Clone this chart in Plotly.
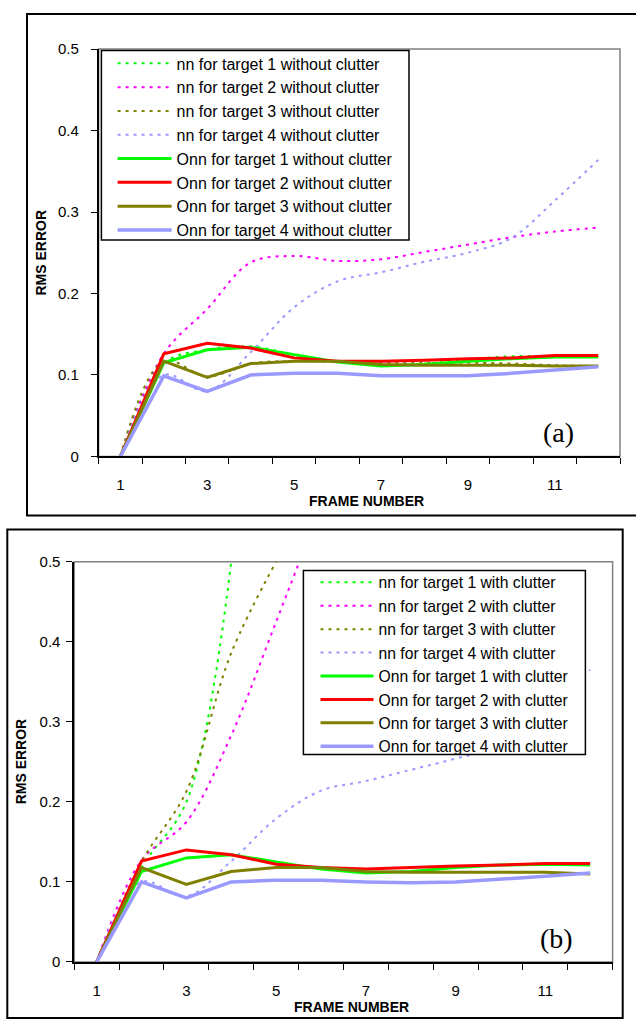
import plotly.graph_objects as go

frames = [1, 2, 3, 4, 5, 6, 7, 8, 9, 10, 11, 12]
x_tick_vals = [1, 3, 5, 7, 9, 11]
x_tick_text = ["1", "3", "5", "7", "9", "11"]
y_tick_vals = [0, 0.1, 0.2, 0.3, 0.4, 0.5]
y_tick_text = ["0", "0.1", "0.2", "0.3", "0.4", "0.5"]

# Panel (a): without clutter
nn1_a = [0, 0.114, 0.131, 0.135, 0.125, 0.117, 0.112, 0.114, 0.119, 0.123, 0.123, 0.122]
nn2_a = [0, 0.126, 0.181, 0.238, 0.246, 0.240, 0.242, 0.251, 0.260, 0.269, 0.276, 0.281]
nn3_a = [0, 0.117, 0.098, 0.114, 0.117, 0.116, 0.115, 0.115, 0.115, 0.114, 0.112, 0.111]
nn4_a = [0, 0.100, 0.080, 0.128, 0.183, 0.215, 0.226, 0.239, 0.250, 0.268, 0.314, 0.364]
onn1_a = [0, 0.115, 0.131, 0.134, 0.125, 0.116, 0.111, 0.113, 0.117, 0.120, 0.122, 0.122]
onn2_a = [0, 0.126, 0.139, 0.133, 0.121, 0.117, 0.117, 0.118, 0.120, 0.121, 0.124, 0.124]
onn3_a = [0, 0.117, 0.097, 0.114, 0.117, 0.117, 0.113, 0.112, 0.112, 0.112, 0.111, 0.111]
onn4_a = [0, 0.099, 0.080, 0.100, 0.102, 0.102, 0.099, 0.099, 0.099, 0.102, 0.106, 0.110]

# Panel (b): with clutter (values above 0.5 leave the plot)
nn1_b = [0, 0.118, 0.200, 0.500, None, None, None, None, None, None, None, None]
nn2_b = [0, 0.127, 0.175, 0.283, 0.425, 0.570, None, None, None, None, None, None]
nn3_b = [0, 0.125, 0.213, 0.386, 0.500, None, None, None, None, None, None, None]
nn4_b = [0, 0.100, 0.082, 0.126, 0.179, 0.214, 0.226, 0.240, 0.254, 0.270, 0.314, 0.365]
onn1_b = [0, 0.113, 0.130, 0.134, 0.125, 0.116, 0.111, 0.113, 0.118, 0.121, 0.122, 0.121]
onn2_b = [0, 0.126, 0.140, 0.134, 0.122, 0.118, 0.116, 0.118, 0.120, 0.121, 0.123, 0.123]
onn3_b = [0, 0.118, 0.097, 0.113, 0.118, 0.118, 0.113, 0.112, 0.112, 0.112, 0.112, 0.110]
onn4_b = [0, 0.100, 0.080, 0.100, 0.102, 0.102, 0.100, 0.099, 0.100, 0.103, 0.107, 0.111]

colors = ["#00FF00", "#FF00FF", "#808000", "#9999FF"]
onn_colors = ["#00FF00", "#FF0000", "#808000", "#9999FF"]

W, H = 636, 1028
FONT = "Liberation Sans, Arial, sans-serif"

fig = go.Figure()

panels = [
    ("without clutter", [nn1_a, nn2_a, nn3_a, nn4_a], [onn1_a, onn2_a, onn3_a, onn4_a], "x", "y", "legend"),
    ("with clutter", [nn1_b, nn2_b, nn3_b, nn4_b], [onn1_b, onn2_b, onn3_b, onn4_b], "x2", "y2", "legend2"),
]
for suffix, nns, onns, xa, ya, lg in panels:
    for k, vals in enumerate(nns):
        fig.add_trace(go.Scatter(
            x=frames, y=vals, mode="lines", name=f"nn for target {k+1} {suffix}",
            line=dict(color=colors[k], width=2, dash="3px,5px", shape="spline"),
            xaxis=xa, yaxis=ya, legend=lg, connectgaps=False))
    for k, vals in enumerate(onns):
        fig.add_trace(go.Scatter(
            x=frames, y=vals, mode="lines", name=f"Onn for target {k+1} {suffix}",
            line=dict(color=onn_colors[k], width=3.5 if k == 3 else 3),
            xaxis=xa, yaxis=ya, legend=lg))


def xaxis(domain, anchor, standoff):
    return dict(domain=domain, anchor=anchor, range=[0.5, 12.5], tickmode="array",
                tickvals=x_tick_vals, ticktext=x_tick_text, ticks="outside", ticklen=6,
                tickcolor="rgba(0,0,0,0)", showline=True, linecolor="black", linewidth=1.5,
                showgrid=False, zeroline=False, tickfont=dict(size=15, color="black"),
                ticklabelstandoff=standoff,
                minor=dict(tickvals=[i + 0.5 for i in range(0, 13)], ticks="outside",
                           ticklen=6, tickcolor="black", tickwidth=1.2, showgrid=False))


def yaxis(domain, anchor, standoff):
    return dict(domain=domain, anchor=anchor, range=[0, 0.5], tickmode="array",
                tickvals=y_tick_vals, ticktext=y_tick_text, ticks="outside", ticklen=6,
                tickcolor="black", tickwidth=1.2, showline=True, linecolor="black",
                linewidth=1.5, showgrid=False, zeroline=False,
                tickfont=dict(size=15, color="black"), ticklabelstandoff=standoff)


fig.update_layout(
    width=W, height=H, margin=dict(l=0, r=0, t=0, b=0),
    paper_bgcolor="white", plot_bgcolor="white",
    font=dict(family=FONT, color="black"),
    showlegend=True,
    xaxis=xaxis([98.6 / W, 620 / W], "y", 8),
    yaxis=yaxis([1 - 455 / H, 1 - 40.7 / H], "x", 9),
    xaxis2=xaxis([74.2 / W, 612.6 / W], "y2", 8),
    yaxis2=yaxis([1 - 969 / H, 1 - 562 / H], "x2", 3),
    legend=dict(x=112.6 / W, y=1 - 38.1 / H, xanchor="left", yanchor="top",
                bgcolor="rgba(0,0,0,0)", borderwidth=0,
                font=dict(size=16, family=FONT), itemwidth=54, tracegroupgap=0),
    legend2=dict(x=315.5 / W, y=1 - 566 / H, xanchor="left", yanchor="top",
                 bgcolor="rgba(0,0,0,0)", borderwidth=0,
                 font=dict(size=15.7, family=FONT), itemwidth=53, tracegroupgap=0),
)

shapes = []
for xr, yr in [("x domain", "y domain"), ("x2 domain", "y2 domain")]:
    shapes.append(dict(type="rect", xref=xr, yref=yr, x0=0, x1=1, y0=0, y1=1,
                       line=dict(color="#808080", width=1.5), layer="below"))
# legend frames (white boxes behind the legend entries)
shapes.append(dict(type="rect", xref="paper", yref="paper", x0=101.4 / W, x1=409 / W,
                   y0=1 - 235 / H, y1=1 - 42.3 / H, fillcolor="white",
                   line=dict(color="black", width=1.5), layer="above"))
shapes.append(dict(type="rect", xref="paper", yref="paper", x0=303.4 / W, x1=585.4 / W,
                   y0=1 - 758 / H, y1=1 - 571 / H, fillcolor="white",
                   line=dict(color="black", width=1.5), layer="above"))
# outer chart boxes
shapes.append(dict(type="rect", xref="paper", yref="paper", x0=27 / W, x1=640 / W,
                   y0=1 - 515 / H, y1=1 - 5 / H, line=dict(color="black", width=2)))
shapes.append(dict(type="rect", xref="paper", yref="paper", x0=7.3 / W, x1=622.7 / W,
                   y0=1 - 1026 / H, y1=1 - 529.3 / H, line=dict(color="black", width=2)))
fig.update_layout(shapes=shapes)

ann = []
title_font = dict(size=14, family=FONT, color="black")
ann.append(dict(text="<b>FRAME NUMBER</b>", xref="paper", yref="paper", x=366 / W, y=1 - 500 / H,
                showarrow=False, font=title_font, xanchor="center", yanchor="middle"))
ann.append(dict(text="<b>FRAME NUMBER</b>", xref="paper", yref="paper", x=351 / W, y=1 - 1015 / H,
                showarrow=False, font=title_font, xanchor="center", yanchor="middle"))
ann.append(dict(text="<b>RMS ERROR</b>", xref="paper", yref="paper", x=40.6 / W, y=1 - 248 / H,
                showarrow=False, font=title_font, textangle=-90, xanchor="center", yanchor="middle"))
ann.append(dict(text="<b>RMS ERROR</b>", xref="paper", yref="paper", x=21 / W, y=1 - 765 / H,
                showarrow=False, font=title_font, textangle=-90, xanchor="center", yanchor="middle"))
panel_font = dict(size=28, family="Liberation Serif, Times New Roman, serif", color="black")
ann.append(dict(text="(a)", xref="x domain", yref="y domain", x=0.883, y=0.058,
                showarrow=False, font=panel_font, xanchor="center", yanchor="middle"))
ann.append(dict(text="(b)", xref="x2 domain", yref="y2 domain", x=0.895, y=0.059,
                showarrow=False, font=panel_font, xanchor="center", yanchor="middle"))
fig.update_layout(annotations=ann)

fig.write_html("out.html")
